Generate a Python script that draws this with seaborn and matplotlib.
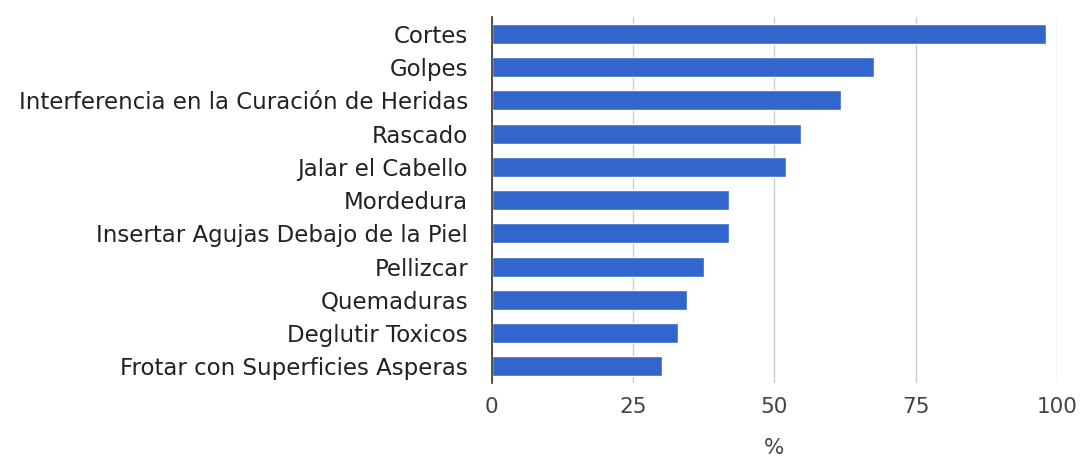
import matplotlib
matplotlib.use("Agg")
import matplotlib.pyplot as plt
import seaborn as sns
import pandas as pd

categories = [
    "Cortes",
    "Golpes",
    "Interferencia en la Curación de Heridas",
    "Rascado",
    "Jalar el Cabello",
    "Mordedura",
    "Insertar Agujas Debajo de la Piel",
    "Pellizcar",
    "Quemaduras",
    "Deglutir Toxicos",
    "Frotar con Superficies Asperas",
]
values = [98.1, 67.7, 61.8, 54.8, 52.1, 41.9, 41.9, 37.6, 34.5, 33.0, 30.2]
xticks = [0, 25, 50, 75, 100]

sns.set_theme(style="white")
plt.rcParams["font.family"] = ["DejaVu Sans"]

df = pd.DataFrame({"cat": categories, "val": values})

fig = plt.figure(figsize=(10.83, 4.61), dpi=100)
ax = fig.add_axes([0.454, 0.169, 0.522, 0.794])

sns.barplot(data=df, y="cat", x="val", color="#3366CC", saturation=1,
            width=0.6, ax=ax, zorder=3)

ax.set_xlim(0, 100)
ax.set_ylim(10.5, -0.5)
ax.set_xticks(xticks)
ax.set_xticklabels([str(t) for t in xticks])
ax.xaxis.grid(True, color="#cccccc", linewidth=1, zorder=0)
ax.set_axisbelow(True)
for s in ["top", "right", "bottom"]:
    ax.spines[s].set_visible(False)
ax.spines["left"].set_color("#333333")
ax.spines["left"].set_linewidth(1.2)
ax.spines["left"].set_zorder(5)

ax.tick_params(axis="y", length=0, pad=17, labelsize=16.5, labelcolor="#222222")
ax.tick_params(axis="x", length=0, pad=10, labelsize=15.5, labelcolor="#444444")
ax.set_ylabel("")
ax.set_xlabel("%", fontsize=15.5, color="#444444", labelpad=15)

fig.savefig("out.png", dpi=100)
